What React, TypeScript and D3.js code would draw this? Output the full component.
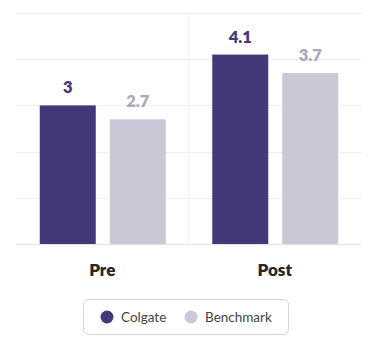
import React, { useEffect, useRef } from 'react';
import * as d3 from 'd3';

const categories = ['Pre', 'Post'];
const seriesNames = ['Colgate', 'Benchmark'];
const colgateValues = [3, 4.1];
const benchmarkValues = [2.7, 3.7];
const yTicks = [0, 1, 2, 3, 4, 5];

const W = 381;
const H = 351;
const colors = ['#433878', '#c9c8d6'];
const labelColors = ['#433878', '#a9a8b6'];
const font = 'Lato, "Open Sans", sans-serif';

const App = () => {
  const ref = useRef<SVGSVGElement>(null);

  useEffect(() => {
    const svg = d3.select(ref.current);
    svg.selectAll('*').remove();

    const left = 16;
    const right = 361;
    const top = 13;
    const bottom = 244;

    const x = d3.scaleBand().domain(categories).range([left, right]).paddingInner(0).paddingOuter(0);
    const y = d3.scaleLinear().domain([0, 5]).range([bottom, top]);
    const barW = 56;
    const gap = 14;
    const inner = d3.scaleBand().domain(seriesNames).range([0, barW * 2 + gap]).paddingInner(gap / (barW + gap)).paddingOuter(0);

    // grid
    svg.append('g')
      .selectAll('line')
      .data(yTicks)
      .enter()
      .append('line')
      .attr('x1', left)
      .attr('x2', right)
      .attr('y1', (d) => Math.round(y(d)) + 0.5)
      .attr('y2', (d) => Math.round(y(d)) + 0.5)
      .attr('stroke', (d) => (d === 0 ? '#e2e2e8' : '#ededf2'))
      .attr('stroke-width', 1);

    // divider between categories
    svg.append('line')
      .attr('x1', (x('Post') as number) + 0.5)
      .attr('x2', (x('Post') as number) + 0.5)
      .attr('y1', top)
      .attr('y2', bottom)
      .attr('stroke', '#ededf2');

    const series = [colgateValues, benchmarkValues];
    const groupW = barW * 2 + gap;

    categories.forEach((cat, ci) => {
      const gx = (x(cat) as number) + (x.bandwidth() - groupW) / 2 + 0.5;
      const g = svg.append('g').attr('transform', `translate(${gx},0)`);
      seriesNames.forEach((s, si) => {
        const v = series[si][ci];
        const bx = inner(s) as number;
        g.append('rect')
          .attr('x', bx)
          .attr('y', y(v))
          .attr('width', inner.bandwidth())
          .attr('height', bottom - y(v))
          .attr('fill', colors[si]);
        g.append('text')
          .attr('x', bx + inner.bandwidth() / 2)
          .attr('y', y(v) - 12)
          .attr('text-anchor', 'middle')
          .attr('font-family', font)
          .attr('font-weight', 800)
          .attr('font-size', 16.5)
          .attr('fill', labelColors[si])
          .text(v);
      });
      svg.append('text')
        .attr('x', (x(cat) as number) + x.bandwidth() / 2)
        .attr('y', 276)
        .attr('text-anchor', 'middle')
        .attr('font-family', font)
        .attr('font-weight', 800)
        .attr('font-size', 17)
        .attr('fill', '#262626')
        .text(cat);
    });

    // legend
    const lg = svg.append('g');
    lg.append('rect')
      .attr('x', 83.5)
      .attr('y', 299.5)
      .attr('width', 205)
      .attr('height', 35)
      .attr('rx', 5)
      .attr('fill', '#fff')
      .attr('stroke', '#d4d4da');
    const items = [
      { name: seriesNames[0], cx: 107, tx: 121 },
      { name: seriesNames[1], cx: 191, tx: 205 },
    ];
    items.forEach((it, i) => {
      lg.append('circle').attr('cx', it.cx).attr('cy', 317).attr('r', 6.5).attr('fill', colors[i]);
      lg.append('text')
        .attr('x', it.tx)
        .attr('y', 321.5)
        .attr('font-family', font)
        .attr('font-size', 13.5)
        .attr('fill', '#444')
        .text(it.name);
    });
  }, []);

  return (
    <div style={{ position: 'fixed', left: 0, top: 0 }}>
      <svg ref={ref} width={W} height={H} style={{ display: 'block', background: '#fff' }} />
    </div>
  );
};

export default App;
